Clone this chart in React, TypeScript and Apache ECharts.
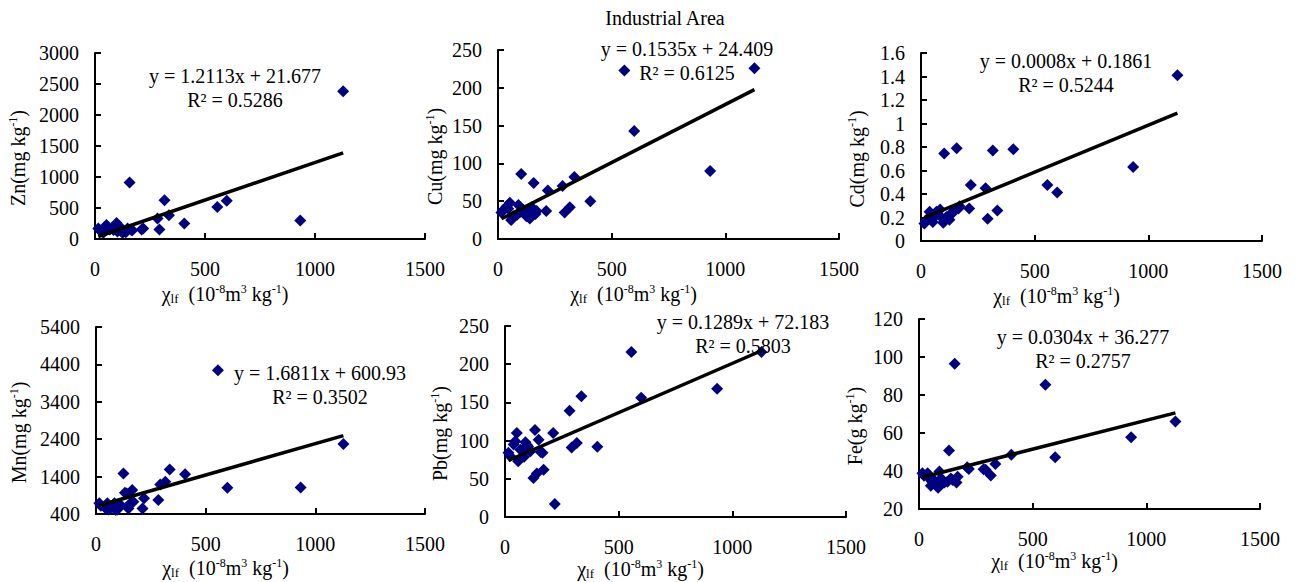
import React, { useEffect, useRef } from "react";
import * as echarts from "echarts";

// magnetic susceptibility of the samples (10^-8 m3 kg-1)
const chi = [15, 22, 38, 45, 52, 58, 68, 84, 90, 98, 102, 112, 125, 132, 140, 148, 157, 165, 170, 212, 219, 284, 293, 316, 336, 406, 556, 599, 933, 1128];

const zn = [170, 140, 100, 130, 225, 180, 155, 145, 210, 260, 120, 200, 100, 120, 110, 170, 910, 145, 140, 155, 170, 330, 155, 625, 385, 250, 515, 615, 300, 2385];
const cu = [35, 38, 43, 40, 48, 25, 30, 32, 45, 36, 86, 38, 30, 35, 27, 42, 74, 33, 37, 37, 64, 70, 35, 42, 82, 50, 223, 143, 90, 226];
const cd = [0.148, 0.177, 0.248, 0.22, 0.162, 0.205, 0.25, 0.268, 0.2, 0.155, 0.745, 0.205, 0.18, 0.234, 0.24, 0.262, 0.79, 0.276, 0.296, 0.276, 0.476, 0.45, 0.19, 0.77, 0.26, 0.78, 0.476, 0.413, 0.63, 1.41];
const mn = [685, 620, 600, 550, 685, 520, 580, 685, 510, 520, 600, 640, 1485, 970, 950, 550, 685, 1040, 730, 550, 820, 775, 1190, 1265, 1590, 1460, 4245, 1100, 1110, 2270];
const pb = [84, 80, 95, 99, 110, 73, 88, 79, 98, 94, 92, 86, 51, 114, 57, 101, 85, 84, 62, 110, 17, 139, 91, 97, 158, 92, 216, 156, 168, 216];
const fe = [38.8, 37.5, 38.8, 36, 32.3, 34.4, 35, 31.2, 39.7, 36, 33.5, 34, 34.4, 50.8, 36, 35.3, 96.5, 33.9, 37, 42, 41.1, 40.9, 40.6, 37.6, 43.7, 48.5, 85.4, 47.2, 57.8, 66];

const elements = ["Zn", "Cu", "Cd", "Mn", "Pb", "Fe"];
const units = ["mg", "mg", "mg", "mg", "mg", "g"];
const slopes = [1.2113, 0.1535, 0.0008, 1.6811, 0.1289, 0.0304];
const intercepts = [21.677, 24.409, 0.1861, 600.93, 72.183, 36.277];
const r2 = [0.5286, 0.6125, 0.5244, 0.3502, 0.5803, 0.2757];

const xTicks = [0, 500, 1000, 1500];
const znTicks = [0, 500, 1000, 1500, 2000, 2500, 3000];
const cuTicks = [0, 50, 100, 150, 200, 250];
const cdTicks = [0, 0.2, 0.4, 0.6, 0.8, 1, 1.2, 1.4, 1.6];
const mnTicks = [400, 1400, 2400, 3400, 4400, 5400];
const pbTicks = [0, 50, 100, 150, 200, 250];
const feTicks = [20, 40, 60, 80, 100, 120];

const title = "Industrial Area";

const FONT = "Liberation Serif, serif";

const values = [zn, cu, cd, mn, pb, fe];
const yTicks = [znTicks, cuTicks, cdTicks, mnTicks, pbTicks, feTicks];

// layout (pixels)
const layout = [
  { left: 95, top: 53, width: 330, height: 186, yGap: 66, xGap: 44, eqX: 235, eqY: 76 },
  { left: 498, top: 50, width: 341, height: 189, yGap: 52, xGap: 44, eqX: 687, eqY: 49 },
  { left: 921, top: 53, width: 341, height: 188, yGap: 53, xGap: 44, eqX: 1066, eqY: 61 },
  { left: 96, top: 327, width: 329, height: 187, yGap: 66, xGap: 43, eqX: 320, eqY: 373 },
  { left: 505, top: 326, width: 341, height: 191, yGap: 54, xGap: 41, eqX: 743, eqY: 322 },
  { left: 919, top: 319, width: 341, height: 190, yGap: 53, xGap: 39, eqX: 1083, eqY: 337 },
];

const rich = {
  sup: { fontFamily: FONT, fontSize: 12, verticalAlign: "top", color: "#000", lineHeight: 22 },
  sub: { fontFamily: FONT, fontSize: 13, verticalAlign: "bottom", color: "#000", lineHeight: 22 },
  n: { fontFamily: FONT, fontSize: 20, color: "#000", lineHeight: 22 },
};

const plain = (v: number) => String(v);

function buildOption() {
  const grids: any[] = [];
  const xAxes: any[] = [];
  const yAxes: any[] = [];
  const series: any[] = [];
  const graphics: any[] = [];

  const xMin = Math.min(...chi);
  const xMax = Math.max(...chi);

  elements.forEach((el, i) => {
    const L = layout[i];
    const ticks = yTicks[i];
    grids.push({
      left: L.left,
      top: L.top,
      width: L.width,
      height: L.height,
      containLabel: false,
      outerBoundsMode: "none",
    });
    xAxes.push({
      type: "value",
      gridIndex: i,
      min: 0,
      max: 1500,
      interval: 500,
      splitLine: { show: false },
      axisLine: { onZero: false, lineStyle: { color: "#000", width: 2 } },
      axisTick: { inside: true, length: 6, lineStyle: { color: "#000", width: 2 } },
      axisLabel: { margin: 20, color: "#000", fontFamily: FONT, fontSize: 20, customValues: xTicks, formatter: plain },
      name: "{n|χ}{sub|lf}{n|  (10}{sup|-8}{n|m}{sup|3}{n| kg}{sup|-1}{n|)}",
      nameLocation: "middle",
      nameGap: L.xGap,
      nameTextStyle: { rich, padding: [0, 70, 0, 0], verticalAlign: "top", fontFamily: FONT },
    });
    yAxes.push({
      type: "value",
      gridIndex: i,
      min: ticks[0],
      max: ticks[ticks.length - 1],
      interval: ticks[1] - ticks[0],
      splitLine: { show: false },
      axisLine: { onZero: false, lineStyle: { color: "#000", width: 2 } },
      axisTick: { inside: true, length: 6, lineStyle: { color: "#000", width: 2 }, customValues: ticks },
      axisLabel: { margin: 16, color: "#000", fontFamily: FONT, fontSize: 20, customValues: ticks, formatter: plain },
      name: `{n|${el}(${units[i]} kg}{sup|-1}{n|)}`,
      nameLocation: "middle",
      nameGap: L.yGap,
      nameTextStyle: { rich, padding: [0, 24, 0, 0], fontFamily: FONT },
    });
    series.push({
      type: "scatter",
      xAxisIndex: i,
      yAxisIndex: i,
      symbol: "diamond",
      symbolSize: 12,
      itemStyle: { color: "#000080", opacity: 1 },
      data: chi.map((c, k) => [c, values[i][k]]),
      z: 2,
    });
    series.push({
      type: "line",
      xAxisIndex: i,
      yAxisIndex: i,
      showSymbol: false,
      symbol: "none",
      lineStyle: { color: "#000", width: 3.5 },
      data: [
        [xMin, slopes[i] * xMin + intercepts[i]],
        [xMax, slopes[i] * xMax + intercepts[i]],
      ],
      z: 3,
    });
    graphics.push({
      type: "text",
      x: L.eqX,
      y: L.eqY,
      style: {
        text: `y = ${slopes[i]}x + ${intercepts[i]}`,
        align: "center",
        verticalAlign: "middle",
        fontFamily: FONT,
        fontSize: 20,
        fill: "#000",
      },
      z: 10,
    });
    graphics.push({
      type: "text",
      x: L.eqX,
      y: L.eqY + 24,
      style: {
        text: `R² = ${r2[i]}`,
        align: "center",
        verticalAlign: "middle",
        fontFamily: FONT,
        fontSize: 20,
        fill: "#000",
      },
      z: 10,
    });
  });

  graphics.push({
    type: "text",
    x: 665,
    y: 18,
    style: {
      text: title,
      align: "center",
      verticalAlign: "middle",
      fontFamily: FONT,
      fontSize: 20,
      fill: "#000",
    },
  });

  return {
    animation: false,
    backgroundColor: "#fff",
    textStyle: { fontFamily: FONT },
    grid: grids,
    xAxis: xAxes,
    yAxis: yAxes,
    series,
    graphic: graphics,
  };
}

export default function App() {
  const ref = useRef<HTMLDivElement>(null);
  useEffect(() => {
    if (!ref.current) return;
    const chart = echarts.init(ref.current, undefined, { renderer: "svg" });
    chart.setOption(buildOption() as any);
    return () => chart.dispose();
  }, []);
  return (
    <div
      ref={ref}
      style={{ position: "absolute", left: 0, top: 0, width: 1295, height: 582, background: "#fff" }}
    />
  );
}
